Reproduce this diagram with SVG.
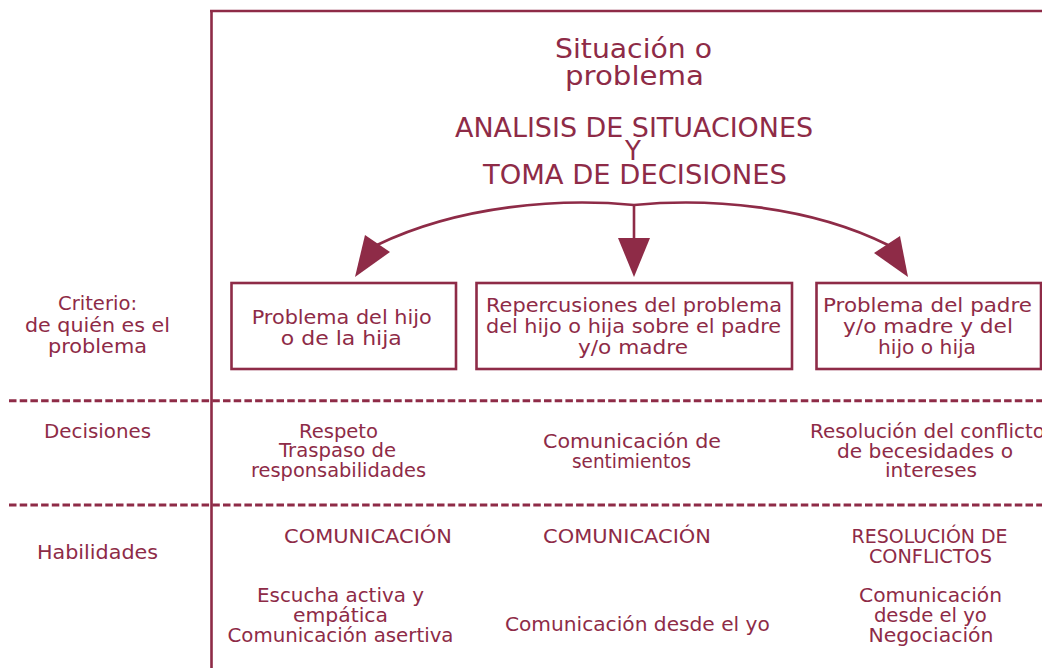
<svg xmlns="http://www.w3.org/2000/svg" width="1042" height="668" viewBox="0 0 1042 668">
<style>
text{font-family:"DejaVu Sans","Liberation Sans",sans-serif;fill:#8e2b47;font-size:19.5px;text-anchor:middle}
.t{font-size:26px}
.T{font-size:27px}
.ln{stroke:#8e2b47;stroke-width:2.6;fill:none}
.dash{stroke:#8e2b47;stroke-width:3;stroke-dasharray:7.5 3.2;fill:none}
.box{stroke:#8e2b47;stroke-width:2.6;fill:none}
.ah{fill:#8e2b47}
</style>
<g id="frame">
<path class="ln" d="M210,11 H1042 M211.5,10 V668"/>
<path class="dash" d="M9,400.7 H1042 M9,505 H1042"/>
</g>
<g id="title">
<text class="t" x="633.5" y="58" textLength="157" lengthAdjust="spacingAndGlyphs">Situación o</text>
<text class="t" x="634.5" y="85" textLength="139" lengthAdjust="spacingAndGlyphs">problema</text>
<text class="T" x="634" y="137" textLength="358" lengthAdjust="spacingAndGlyphs">ANALISIS DE SITUACIONES</text>
<text class="t" x="633" y="160">Y</text>
<text class="T" x="635" y="184" textLength="304" lengthAdjust="spacingAndGlyphs">TOMA DE DECISIONES</text>
</g>
<g id="connectors">
<path class="ln" d="M634,205 V240"/>
<path class="ln" d="M634,205 C560,198 460,205 377,245"/>
<path class="ln" d="M634,205 C708,198 808,205 888,245"/>
<polygon class="ah" points="618,238 650,238 634,277"/>
<polygon class="ah" points="355,277 365,235 390,252"/>
<polygon class="ah" points="908,277 900,236 874,253"/>
</g>
<g id="row-labels">
<text x="97.5" y="310" textLength="79" lengthAdjust="spacingAndGlyphs">Criterio:</text>
<text x="97.5" y="332" textLength="145" lengthAdjust="spacingAndGlyphs">de quién es el</text>
<text x="97.5" y="353" textLength="99" lengthAdjust="spacingAndGlyphs">problema</text>
<text x="97.5" y="438" textLength="107" lengthAdjust="spacingAndGlyphs">Decisiones</text>
<text x="97.5" y="559" textLength="121" lengthAdjust="spacingAndGlyphs">Habilidades</text>
</g>
<g id="box-hijo">
<rect class="box" x="231.5" y="283" width="224.5" height="86"/>
<text x="341.7" y="324" textLength="180" lengthAdjust="spacingAndGlyphs">Problema del hijo</text>
<text x="341.3" y="345" textLength="121" lengthAdjust="spacingAndGlyphs">o de la hija</text>
</g>
<g id="box-repercusiones">
<rect class="box" x="476.5" y="283" width="315.5" height="86"/>
<text x="634" y="312" textLength="296" lengthAdjust="spacingAndGlyphs">Repercusiones del problema</text>
<text x="633.5" y="333" textLength="295" lengthAdjust="spacingAndGlyphs">del hijo o hija sobre el padre</text>
<text x="633" y="354" textLength="110" lengthAdjust="spacingAndGlyphs">y/o madre</text>
</g>
<g id="box-padre">
<rect class="box" x="816.5" y="283" width="224.5" height="86"/>
<text x="927.5" y="312" textLength="209" lengthAdjust="spacingAndGlyphs">Problema del padre</text>
<text x="928" y="333" textLength="170" lengthAdjust="spacingAndGlyphs">y/o madre y del</text>
<text x="927" y="354" textLength="98" lengthAdjust="spacingAndGlyphs">hijo o hija</text>
</g>
<g id="decisiones-1">
<text x="338.5" y="438" textLength="79" lengthAdjust="spacingAndGlyphs">Respeto</text>
<text x="337.5" y="457" textLength="117" lengthAdjust="spacingAndGlyphs">Traspaso de</text>
<text x="338.5" y="477" textLength="175" lengthAdjust="spacingAndGlyphs">responsabilidades</text>
</g>
<g id="decisiones-2">
<text x="632" y="448" textLength="178" lengthAdjust="spacingAndGlyphs">Comunicación de</text>
<text x="631.5" y="468" textLength="119" lengthAdjust="spacingAndGlyphs">sentimientos</text>
</g>
<g id="decisiones-3">
<text x="927.5" y="438" textLength="235" lengthAdjust="spacingAndGlyphs">Resolución del conflicto</text>
<text x="925" y="458" textLength="176" lengthAdjust="spacingAndGlyphs">de becesidades o</text>
<text x="931" y="477" textLength="92" lengthAdjust="spacingAndGlyphs">intereses</text>
</g>
<g id="habilidades-1">
<text x="368" y="543" textLength="168" lengthAdjust="spacingAndGlyphs">COMUNICACIÓN</text>
<text x="340.5" y="602" textLength="167" lengthAdjust="spacingAndGlyphs">Escucha activa y</text>
<text x="340.5" y="622" textLength="95" lengthAdjust="spacingAndGlyphs">empática</text>
<text x="340.5" y="642" textLength="226" lengthAdjust="spacingAndGlyphs">Comunicación asertiva</text>
</g>
<g id="habilidades-2">
<text x="627" y="543" textLength="168" lengthAdjust="spacingAndGlyphs">COMUNICACIÓN</text>
<text x="637.4" y="631" textLength="265" lengthAdjust="spacingAndGlyphs">Comunicación desde el yo</text>
</g>
<g id="habilidades-3">
<text x="929.6" y="543" textLength="156" lengthAdjust="spacingAndGlyphs">RESOLUCIÓN DE</text>
<text x="930.4" y="563" textLength="123" lengthAdjust="spacingAndGlyphs">CONFLICTOS</text>
<text x="930.5" y="602" textLength="143" lengthAdjust="spacingAndGlyphs">Comunicación</text>
<text x="930.4" y="622" textLength="113" lengthAdjust="spacingAndGlyphs">desde el yo</text>
<text x="931" y="642" textLength="125" lengthAdjust="spacingAndGlyphs">Negociación</text>
</g>
</svg>
